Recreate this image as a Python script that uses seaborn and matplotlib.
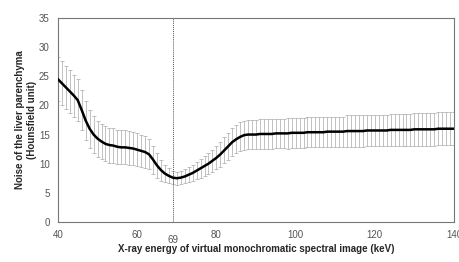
import numpy as np
import pandas as pd
import seaborn as sns
import matplotlib.pyplot as plt
from matplotlib.transforms import blended_transform_factory

energy_kev = list(range(40, 141))
noise_mean = [24.5, 23.8, 23.1, 22.4, 21.7, 20.9, 19.2, 17.4, 16.0, 15.0,
              14.3, 13.8, 13.4, 13.2, 13.1, 12.9, 12.8, 12.8, 12.7, 12.6,
              12.4, 12.2, 12.0, 11.6, 10.7, 9.7, 8.9, 8.3, 7.9, 7.6,
              7.5, 7.6, 7.8, 8.1, 8.4, 8.8, 9.2, 9.6, 10.0, 10.5,
              11.0, 11.6, 12.3, 13.0, 13.7, 14.2, 14.6, 14.9,
              15.0, 15.0, 15.0, 15.1, 15.1, 15.1, 15.1, 15.2, 15.2, 15.2,
              15.2, 15.3, 15.3, 15.3, 15.3, 15.4, 15.4, 15.4, 15.4, 15.4,
              15.5, 15.5, 15.5, 15.5, 15.5, 15.6, 15.6, 15.6, 15.6, 15.6,
              15.7, 15.7, 15.7, 15.7, 15.7, 15.7, 15.8, 15.8, 15.8, 15.8,
              15.8, 15.8, 15.9, 15.9, 15.9, 15.9, 15.9, 15.9, 16.0, 16.0,
              16.0, 16.0, 16.0]
noise_sd = [3.8, 3.8, 3.7, 3.7, 3.6, 3.6, 3.5, 3.4, 3.3, 3.2,
            3.1, 3.0, 3.0, 3.0, 3.0, 2.9, 2.9, 2.9, 2.9, 2.8,
            2.8, 2.8, 2.7, 2.6, 2.4, 2.1, 1.8, 1.5, 1.3, 1.1,
            1.1, 1.1, 1.2, 1.3, 1.4, 1.5, 1.6, 1.7, 1.8, 1.9,
            2.0, 2.1, 2.2, 2.3, 2.4, 2.4, 2.5, 2.5,
            2.5, 2.5, 2.5, 2.5, 2.5, 2.5, 2.5, 2.5, 2.5, 2.5,
            2.6, 2.6, 2.6, 2.6, 2.6, 2.6, 2.6, 2.6, 2.6, 2.6,
            2.6, 2.6, 2.6, 2.6, 2.6, 2.7, 2.7, 2.7, 2.7, 2.7,
            2.7, 2.7, 2.7, 2.7, 2.7, 2.7, 2.7, 2.7, 2.7, 2.7,
            2.8, 2.8, 2.8, 2.8, 2.8, 2.8, 2.8, 2.8, 2.8, 2.8,
            2.8, 2.8, 2.8]
optimal_kev = 69
x_ticks = [40, 60, 80, 100, 120, 140]
y_ticks = [0, 5, 10, 15, 20, 25, 30, 35]

df = pd.DataFrame({"keV": energy_kev, "mean": noise_mean, "sd": noise_sd})

sns.set_style("white")
plt.rcParams['font.family'] = ['Liberation Sans', 'DejaVu Sans']

fig, ax = plt.subplots(figsize=(4.6, 2.62), dpi=100)
fig.subplots_adjust(left=0.126, right=0.987, top=0.931, bottom=0.153)

ax.errorbar(df["keV"], df["mean"], yerr=df["sd"], fmt="none",
            ecolor="#a8a8a8", elinewidth=0.5, capsize=1.2, capthick=0.5, zorder=1)
sns.lineplot(data=df, x="keV", y="mean", color="black", linewidth=1.8, ax=ax, zorder=3)
ax.axvline(optimal_kev, color="#555555", linestyle=(0, (1, 1)), linewidth=0.7, zorder=2)

ax.set_xlim(40, 140)
ax.set_ylim(0, 35)
ax.set_xticks(x_ticks)
ax.set_yticks(y_ticks)
ax.tick_params(axis="both", labelsize=7, colors="#555555", length=2, width=0.5,
               direction="in")
ax.tick_params(axis="y", pad=6)
ax.tick_params(axis="x", pad=6)
for s in ax.spines.values():
    s.set_color("#777777")
    s.set_linewidth(0.8)

trans = blended_transform_factory(ax.transData, ax.transAxes)
ax.text(optimal_kev, -0.065, str(optimal_kev), transform=trans, ha="center", va="top",
        fontsize=7, color="#555555")

ax.set_xlabel("X-ray energy of virtual monochromatic spectral image (keV)",
              fontsize=7, fontweight="bold", labelpad=3)
ax.set_ylabel("Noise of the liver parenchyma\n(Hounsfield unit)",
              fontsize=7, fontweight="bold", labelpad=1, linespacing=1.35)

fig.savefig("out.png", dpi=100)
